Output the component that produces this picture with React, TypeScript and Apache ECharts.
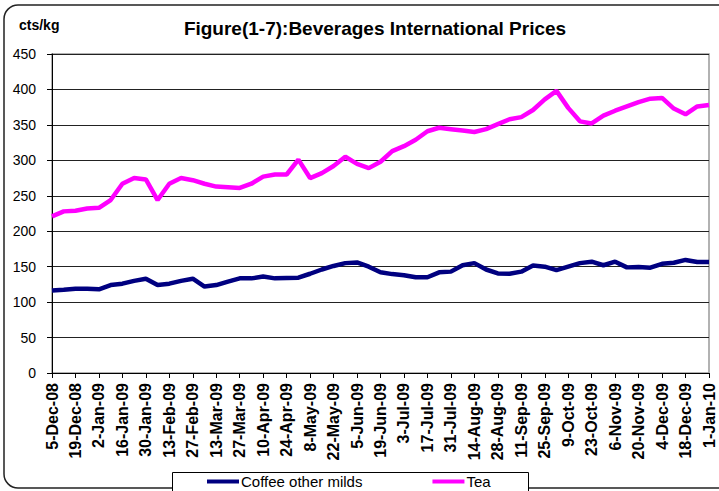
import React, { useEffect, useRef } from "react";
import * as echarts from "echarts";

const weeks: string[] = [
  "5-Dec-08", "12-Dec-08", "19-Dec-08", "26-Dec-08", "2-Jan-09", "9-Jan-09", "16-Jan-09", "23-Jan-09",
  "30-Jan-09", "6-Feb-09", "13-Feb-09", "20-Feb-09", "27-Feb-09", "6-Mar-09", "13-Mar-09", "20-Mar-09",
  "27-Mar-09", "3-Apr-09", "10-Apr-09", "17-Apr-09", "24-Apr-09", "1-May-09", "8-May-09", "15-May-09",
  "22-May-09", "29-May-09", "5-Jun-09", "12-Jun-09", "19-Jun-09", "26-Jun-09", "3-Jul-09", "10-Jul-09",
  "17-Jul-09", "24-Jul-09", "31-Jul-09", "7-Aug-09", "14-Aug-09", "21-Aug-09", "28-Aug-09", "4-Sep-09",
  "11-Sep-09", "18-Sep-09", "25-Sep-09", "2-Oct-09", "9-Oct-09", "16-Oct-09", "23-Oct-09", "30-Oct-09",
  "6-Nov-09", "13-Nov-09", "20-Nov-09", "27-Nov-09", "4-Dec-09", "11-Dec-09", "18-Dec-09", "25-Dec-09",
  "1-Jan-10",
];

const coffeeOtherMilds: number[] = [
  116.5, 117.5, 119, 119, 118, 124, 126, 130, 133, 124, 126, 130, 133, 122, 124, 129,
  133.5, 133.5, 136, 133.5, 134, 134.5, 140, 146, 151, 155, 156, 150, 142, 139.5,
  138, 135, 135, 142, 143, 152, 155, 146, 140.5, 140, 143, 151.5, 150, 145, 150,
  155, 157, 152, 157, 149, 149.5, 148.5, 154, 155.5, 159.5, 156.5, 156.5,
];

const tea: number[] = [
  221, 228, 229, 232, 233, 244, 267, 275, 273, 244, 267, 275, 272, 267, 263, 262,
  261, 267, 277, 280, 280, 301, 275, 282, 292, 305, 295, 289, 298, 313,
  320, 329, 341, 346, 344, 342, 340, 344, 351, 358, 361, 371, 386, 398, 374,
  355, 352, 363, 370, 376, 382, 387, 388, 373, 365, 376, 378,
];

const seriesNames: string[] = ["Coffee other milds", "Tea"];
const seriesColors: string[] = ["#000080", "#FF00FF"];

const App: React.FC = () => {
  const ref = useRef<HTMLDivElement>(null);

  useEffect(() => {
    if (!ref.current) return;
    const chart = echarts.init(ref.current, undefined, { renderer: "svg" });
    const font = "Arial, 'Liberation Sans', sans-serif";
    chart.setOption({
      animation: false,
      backgroundColor: "#ffffff",
      textStyle: { fontFamily: font },
      grid: {
        left: 52,
        right: 10,
        top: 54,
        bottom: 118,
        show: true,
        borderColor: "#999999",
        borderWidth: 1.5,
        backgroundColor: "transparent",
      },
      legend: {
        data: seriesNames,
        left: 207,
        top: 474,
        padding: 0,
        icon: "rect",
        itemWidth: 32,
        itemHeight: 4,
        itemGap: 70,
        textStyle: { fontSize: 15, color: "#000", fontFamily: font, padding: [0, 0, 0, -3] },
      },
      xAxis: {
        type: "category",
        data: weeks,
        boundaryGap: false,
        axisLine: { lineStyle: { color: "#000", width: 1 } },
        axisTick: { show: true, interval: 1, length: 5, lineStyle: { color: "#000" } },
        axisLabel: {
          interval: 1,
          rotate: 90,
          margin: 10,
          fontSize: 16,
          fontWeight: "bold",
          color: "#000",
          fontFamily: font,
        },
        splitLine: { show: false },
      },
      yAxis: {
        type: "value",
        min: 0,
        max: 450,
        interval: 50,
        axisLine: { show: true, lineStyle: { color: "#000", width: 1 } },
        axisTick: { show: true, length: 5, lineStyle: { color: "#000" } },
        axisLabel: { fontSize: 14, color: "#000", margin: 16, fontFamily: font },
        splitLine: { show: true, lineStyle: { color: "#222", width: 1 } },
      },
      series: [
        {
          name: seriesNames[0],
          type: "line",
          data: coffeeOtherMilds,
          showSymbol: false,
          symbol: "none",
          lineStyle: { color: seriesColors[0], width: 4.5 },
          itemStyle: { color: seriesColors[0] },
          z: 3,
        },
        {
          name: seriesNames[1],
          type: "line",
          data: tea,
          showSymbol: false,
          symbol: "none",
          lineStyle: { color: seriesColors[1], width: 4.5 },
          itemStyle: { color: seriesColors[1] },
          z: 4,
        },
      ],
      graphic: [
        {
          type: "rect",
          silent: true,
          z: -10,
          shape: { x: 4, y: 5, width: 730, height: 483, r: 14 },
          style: { fill: "none", stroke: "#222", lineWidth: 1.5 },
        },
        {
          type: "rect",
          silent: true,
          z: -5,
          shape: { x: 172.5, y: 472.5, width: 356, height: 22 },
          style: { fill: "#fff", stroke: "#000", lineWidth: 1 },
        },
        {
          type: "text",
          x: 375,
          y: 28,
          style: {
            text: "Figure(1-7):Beverages International Prices",
            fontSize: 19,
            fontWeight: "bold",
            fill: "#000",
            fontFamily: font,
            align: "center",
            verticalAlign: "middle",
          },
        },
        {
          type: "text",
          x: 19,
          y: 25,
          style: {
            text: "cts/kg",
            fontSize: 14,
            fontWeight: "bold",
            fill: "#000",
            fontFamily: font,
            align: "left",
            verticalAlign: "middle",
          },
        },
      ],
    });
    return () => chart.dispose();
  }, []);

  return (
    <div
      ref={ref}
      style={{ position: "fixed", left: 0, top: 0, width: 719, height: 491 }}
    />
  );
};

export default App;
